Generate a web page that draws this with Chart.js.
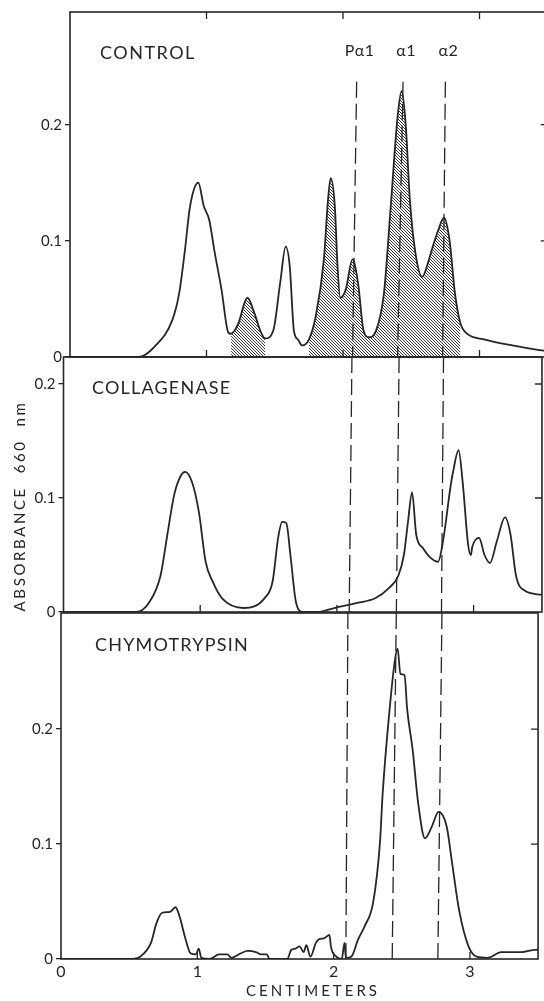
<!DOCTYPE html>
<html lang="en">
<head>
<meta charset="UTF-8">
<title>Absorbance scans</title>
<script src="https://cdn.jsdelivr.net/npm/chart.js"></script>
<style>
  html, body { margin: 0; padding: 0; background: #fff; overflow: hidden; width: 544px; height: 1001px; }
  canvas { position: absolute; left: 0; }
</style>
</head>
<body>
<canvas id="control" width="560" height="372" style="top:0px"></canvas>
<canvas id="collagenase" width="560" height="285" style="top:345px"></canvas>
<canvas id="chymo" width="560" height="401" style="top:600px"></canvas>

<script>
// values (cm along gel, absorbance at 660 nm)
const xTicks = [0, 1, 2, 3];
const yTicks = [0, 0.1, 0.2];
const peakNames = ['P\u03b11', '\u03b11', '\u03b12'];

const controlX = [0, 0.50, 0.62, 0.75, 0.80, 0.84, 0.88, 0.94, 0.98, 1.02, 1.06, 1.11, 1.16, 1.18, 1.23, 1.30, 1.35, 1.40, 1.43, 1.49,
  1.54, 1.58, 1.61, 1.64, 1.67, 1.70, 1.75, 1.80, 1.86, 1.89, 1.91, 1.94, 1.96, 1.98, 2.02, 2.07, 2.11, 2.15, 2.19, 2.24,
  2.30, 2.35, 2.40, 2.43, 2.46, 2.49, 2.53, 2.58, 2.63, 2.66, 2.70, 2.74, 2.78, 2.82, 2.86, 2.90, 3.04, 3.24, 3.44, 3.50];
const controlY = [0, 0, 0.009, 0.032, 0.055, 0.090, 0.130, 0.150, 0.130, 0.118, 0.090, 0.058, 0.021, 0.020, 0.028, 0.051, 0.038, 0.021, 0.016, 0.023,
  0.064, 0.095, 0.078, 0.023, 0.015, 0.010, 0.015, 0.035, 0.084, 0.135, 0.154, 0.130, 0.078, 0.051, 0.058, 0.084, 0.064, 0.023, 0.017, 0.022,
  0.055, 0.130, 0.207, 0.229, 0.199, 0.135, 0.090, 0.069, 0.084, 0.096, 0.110, 0.120, 0.101, 0.055, 0.029, 0.021, 0.015, 0.010, 0.006, 0.005];
const controlHatch = [[1.18, 1.43], [1.75, 2.87]];
const controlMarkTop = [2.10, 2.44, 2.75];
const controlMarkBot = [2.07, 2.40, 2.73];

const collX = [0, 0.53, 0.63, 0.71, 0.76, 0.81, 0.86, 0.89, 0.94, 0.99, 1.04, 1.09, 1.16, 1.32, 1.47, 1.53, 1.57, 1.60, 1.63, 1.66,
  1.70, 1.75, 1.86, 1.98, 2.15, 2.28, 2.38, 2.45, 2.49, 2.52, 2.55, 2.58, 2.63, 2.69, 2.74, 2.78, 2.83, 2.85, 2.89, 2.92,
  2.96, 2.98, 2.99, 3.04, 3.08, 3.12, 3.17, 3.23, 3.27, 3.31, 3.37, 3.50];
const collY = [0, 0, 0.009, 0.032, 0.068, 0.103, 0.120, 0.123, 0.114, 0.088, 0.044, 0.027, 0.012, 0.0035, 0.012, 0.027, 0.065, 0.079, 0.078, 0.050,
  0.009, 0, 0, 0.0035, 0.008, 0.012, 0.021, 0.032, 0.050, 0.079, 0.105, 0.068, 0.056, 0.047, 0.044, 0.065, 0.109, 0.123, 0.142, 0.114,
  0.059, 0.050, 0.057, 0.065, 0.050, 0.043, 0.062, 0.083, 0.068, 0.032, 0.019, 0.015];
const collMarkTop = [2.11, 2.455, 2.78];
const collMarkBot = [2.09, 2.435, 2.765];

const chymoX = [0, 0.51, 0.58, 0.66, 0.70, 0.74, 0.80, 0.84, 0.87, 0.91, 0.95, 0.99, 1.01, 1.03, 1.09, 1.16, 1.22, 1.25, 1.32, 1.37,
  1.43, 1.47, 1.51, 1.53, 1.66, 1.69, 1.72, 1.75, 1.78, 1.80, 1.83, 1.87, 1.89, 1.93, 1.97, 1.98, 2.02, 2.06, 2.08, 2.09,
  2.13, 2.18, 2.23, 2.29, 2.34, 2.36, 2.41, 2.45, 2.47, 2.49, 2.52, 2.54, 2.58, 2.62, 2.67, 2.72, 2.77, 2.83, 2.87, 2.92,
  2.99, 3.05, 3.13, 3.23, 3.38, 3.48, 3.50];
const chymoY = [0, 0, 0.002, 0.014, 0.031, 0.040, 0.041, 0.045, 0.037, 0.019, 0.005, 0.004, 0.009, 0.001, 0, 0.004, 0.004, 0.001, 0.005, 0.007,
  0.006, 0.004, 0.004, 0, 0, 0.008, 0.009, 0.011, 0.006, 0.012, 0.002, 0.014, 0.017, 0.018, 0.021, 0.011, 0.002, 0, 0.014, 0.001,
  0.002, 0.017, 0.029, 0.049, 0.101, 0.144, 0.216, 0.260, 0.270, 0.248, 0.247, 0.217, 0.182, 0.136, 0.105, 0.115, 0.128, 0.115, 0.083, 0.043,
  0.011, 0.002, 0.001, 0.006, 0.006, 0.008, 0.008];
const chymoMarkTop = [2.105, 2.46, 2.795];
const chymoMarkBot = [2.09, 2.43, 2.765];

const ink = '#262626';
const family = "Lato, 'DejaVu Sans', sans-serif";

// diagonal hatching for the shaded bands
const hatch = (() => {
  const c = document.createElement('canvas');
  c.width = c.height = 3;
  const g = c.getContext('2d');
  g.strokeStyle = '#333';
  g.lineWidth = 1;
  g.beginPath();
  g.moveTo(0, 0); g.lineTo(3, 3);
  g.moveTo(-1, 2); g.lineTo(1, 4);
  g.moveTo(2, -1); g.lineTo(4, 1);
  g.stroke();
  return g.createPattern(c, 'repeat');
})();

// frame, inner ticks and texts inside each panel
const decor = {
  id: 'decor',
  afterDatasetsDraw(chart, args, o) {
    const { ctx, chartArea: a, scales: { x, y } } = chart;
    ctx.save();
    ctx.strokeStyle = ink;
    ctx.lineWidth = 1.6;
    ctx.strokeRect(a.left, a.top, a.right - a.left, a.bottom - a.top);
    ctx.lineWidth = 1.3;
    ctx.beginPath();
    xTicks.slice(1).forEach(v => {
      const px = x.getPixelForValue(v);
      if (o.topTicks) { ctx.moveTo(px, a.top); ctx.lineTo(px, a.top + 7); }
      if (o.bottomTicks) { ctx.moveTo(px, a.bottom); ctx.lineTo(px, a.bottom - 7); }
    });
    yTicks.slice(1).forEach(v => {
      const py = y.getPixelForValue(v);
      ctx.moveTo(a.right, py); ctx.lineTo(a.right - 7, py);
    });
    ctx.stroke();

    ctx.fillStyle = ink;
    ctx.textBaseline = 'middle';
    ctx.textAlign = 'left';
    ctx.font = '18px ' + family;
    ctx.letterSpacing = o.spacing;
    ctx.fillText(o.title, o.titleX, o.titleY);

    if (o.peaks) {
      ctx.font = '16px ' + family;
      ctx.letterSpacing = '0.5px';
      ctx.textAlign = 'center';
      o.peaks.forEach((v, i) => ctx.fillText(peakNames[i], x.getPixelForValue(v) + 3, 51));
    }
    if (o.yTitle) {
      ctx.save();
      ctx.translate(20, 161);
      ctx.rotate(-Math.PI / 2);
      ctx.textAlign = 'center';
      ctx.font = '15px ' + family;
      ctx.letterSpacing = '2.6px';
      ctx.fillText('ABSORBANCE  660  nm', 0, 0);
      ctx.restore();
    }
    if (o.xTitle) {
      ctx.textAlign = 'center';
      ctx.font = '15px ' + family;
      ctx.letterSpacing = '3px';
      ctx.fillText('CENTIMETERS', 313, 391);
    }
    ctx.restore();
  }
};

function panel(id, p) {
  const pts = p.xs.map((x, i) => ({ x, y: p.ys[i] }));
  const sets = [{ data: pts, borderColor: ink, borderWidth: 1.8, cubicInterpolationMode: 'monotone', order: 0 }];
  (p.hatch || []).forEach(r => sets.push({
    data: pts.filter(q => q.x >= r[0] && q.x <= r[1]),
    borderColor: 'transparent', borderWidth: 0, backgroundColor: hatch,
    fill: 'origin', cubicInterpolationMode: 'monotone', order: 2
  }));
  p.markTop.forEach((xt, i) => sets.push({
    data: [{ x: xt, y: p.markY }, { x: p.markBot[i], y: 0 }],
    borderColor: ink, borderWidth: 1.3, borderDash: [16, 6], order: 1
  }));

  return new Chart(document.getElementById(id), {
    type: 'line',
    data: { datasets: sets },
    options: {
      responsive: false,
      animation: false,
      layout: { padding: p.pad },
      elements: { point: { radius: 0 } },
      plugins: { legend: { display: false }, tooltip: { enabled: false }, decor: p.decor },
      scales: {
        x: {
          type: 'linear', min: 0, max: 3.5,
          display: !!p.xLabels,
          afterBuildTicks: s => { s.ticks = xTicks.map(v => ({ value: v })); },
          afterFit: s => { s.height = p.xLabels ? 30 : 0; },
          grid: { drawOnChartArea: false, drawTicks: false },
          border: { display: false },
          ticks: { color: ink, font: { family, size: 16 }, padding: 3 }
        },
        y: {
          min: 0, max: p.yMax,
          afterBuildTicks: s => { s.ticks = yTicks.map(v => ({ value: v })); },
          afterFit: s => { s.width = p.left; },
          grid: { drawOnChartArea: false, tickLength: 5, color: ink, lineWidth: 1.3 },
          border: { display: false },
          ticks: { color: ink, font: { family, size: 15 }, padding: 3, callback: v => v === 0 ? '0' : v.toFixed(1) }
        }
      }
    },
    plugins: [decor]
  });
}

panel('control', {
  xs: controlX, ys: controlY, hatch: controlHatch,
  markTop: controlMarkTop, markBot: controlMarkBot, markY: 0.237,
  yMax: 0.297, left: 70, pad: { left: 0, top: 12, right: 12.25, bottom: 15 },
  decor: { title: 'CONTROL', titleX: 100, titleY: 53, spacing: '1.5px', topTicks: true, bottomTicks: true, peaks: controlMarkTop }
});

panel('collagenase', {
  xs: collX, ys: collY,
  markTop: collMarkTop, markBot: collMarkBot, markY: 0.2237,
  yMax: 0.2237, left: 63.5, pad: { left: 0, top: 12, right: 18.05, bottom: 18 },
  decor: { title: 'COLLAGENASE', titleX: 92, titleY: 43, spacing: '1.2px', bottomTicks: true, yTitle: true }
});

panel('chymo', {
  xs: chymoX, ys: chymoY, xLabels: true,
  markTop: chymoMarkTop, markBot: chymoMarkBot, markY: 0.301,
  yMax: 0.301, left: 61, pad: { left: 0, top: 13, right: 21.95, bottom: 12 },
  decor: { title: 'CHYMOTRYPSIN', titleX: 95, titleY: 45, spacing: '1.2px', bottomTicks: true, xTitle: true }
});
</script>
</body>
</html>
